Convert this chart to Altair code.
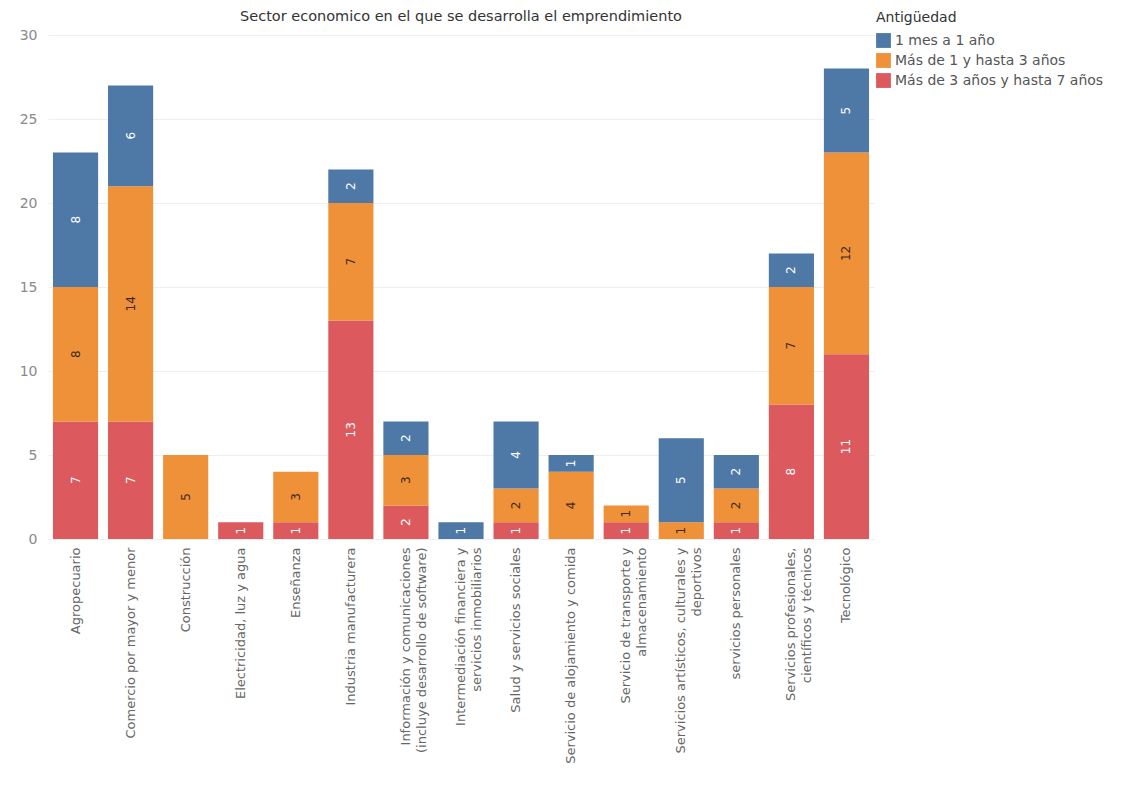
import altair as alt
import pandas as pd

sectores = [
    "Agropecuario",
    "Comercio por mayor y menor",
    "Construcción",
    "Electricidad, luz y agua",
    "Enseñanza",
    "Industria manufacturera",
    "Información y comunicaciones|(incluye desarrollo de software)",
    "Intermediación financiera y|servicios inmobiliarios",
    "Salud y servicios sociales",
    "Servicio de alojamiento y comida",
    "Servicio de transporte y|almacenamiento",
    "Servicios artísticos, culturales y|deportivos",
    "servicios personales",
    "Servicios profesionales,|científicos y técnicos",
    "Tecnológico",
]

antiguedad = ["1 mes a 1 año", "Más de 1 y hasta 3 años", "Más de 3 años y hasta 7 años"]
colores = ["#4e79a7", "#ef9139", "#dc5a5d"]

# values per sector
v_1mes = [8, 6, 0, 0, 0, 2, 2, 1, 4, 1, 0, 5, 2, 2, 5]
v_1a3 = [8, 14, 5, 0, 3, 7, 3, 0, 2, 4, 1, 1, 2, 7, 12]
v_3a7 = [7, 7, 0, 1, 1, 13, 2, 0, 1, 0, 1, 0, 1, 8, 11]

rows = []
for i, s in enumerate(sectores):
    rows.append({"sector": s, "antiguedad": antiguedad[2], "valor": v_3a7[i], "orden": 0})
    rows.append({"sector": s, "antiguedad": antiguedad[1], "valor": v_1a3[i], "orden": 1})
    rows.append({"sector": s, "antiguedad": antiguedad[0], "valor": v_1mes[i], "orden": 2})
df = pd.DataFrame(rows)

FONT = "DejaVu Sans"

base = (
    alt.Chart(df)
    .transform_filter("datum.valor > 0")
    .transform_stack(
        stack="valor",
        groupby=["sector"],
        sort=[alt.SortField("orden", order="ascending")],
        as_=["y0", "y1"],
    )
    .transform_calculate(mid="(datum.y0 + datum.y1) / 2")
)

xenc = alt.X(
    "sector:N",
    sort=sectores,
    scale=alt.Scale(paddingInner=0.18, paddingOuter=0.09),
    axis=alt.Axis(
        title="",
        labelAngle=270,
        labelExpr="split(datum.label, '|')",
        labelFont=FONT,
        labelFontSize=13,
        labelColor="#666666",
        labelPadding=8,
        labelLineHeight=16,
        labelLimit=1000,
        ticks=False,
        domain=False,
        grid=False,
    ),
)

bars = base.mark_bar().encode(
    x=xenc,
    y=alt.Y(
        "y0:Q",
        scale=alt.Scale(domain=[0, 30], nice=False),
        axis=alt.Axis(
            title="",
            values=[0, 5, 10, 15, 20, 25, 30],
            labelFont=FONT,
            labelFontSize=14,
            labelColor="#8a8a8a",
            labelPadding=11,
            ticks=False,
            domain=False,
            grid=True,
            gridColor="#eeeeee",
        ),
    ),
    y2="y1:Q",
    color=alt.Color(
        "antiguedad:N",
        scale=alt.Scale(domain=antiguedad, range=colores),
        legend=alt.Legend(
            title="Antigüedad",
            orient="none",
            legendX=828,
            legendY=-24,
            symbolType="square",
            symbolSize=220,
            symbolStrokeWidth=0,
            symbolOpacity=1,
            titleFont=FONT,
            titleFontSize=14,
            titleFontWeight="normal",
            titleColor="#333333",
            titlePadding=8,
            labelFont=FONT,
            labelFontSize=14,
            labelColor="#555555",
            labelLimit=400,
            rowPadding=5,
        ),
    ),
)

text = base.mark_text(angle=270, font=FONT, fontSize=12).encode(
    x=alt.X("sector:N", sort=sectores),
    y=alt.Y("mid:Q"),
    text=alt.Text("valor:Q"),
    color=alt.condition(
        "datum.antiguedad == 'Más de 1 y hasta 3 años'",
        alt.value("#3b2a1a"),
        alt.value("#ffffff"),
    ),
)

chart = (
    alt.layer(bars, text)
    .properties(
        width=826,
        height=504,
        autosize=alt.AutoSizeParams(type="none"),
        padding={"left": 40, "top": 27, "right": 256, "bottom": 244},
        title=alt.TitleParams(
            text="Sector economico en el que se desarrolla el emprendimiento",
            font=FONT,
            fontSize=14.5,
            fontWeight="normal",
            color="#333333",
            anchor="middle",
            offset=10,
            dy=23,
        ),
    )
    .configure_view(stroke=None)
)

chart.save("out.html", embed_options={"renderer": "svg", "actions": False})
